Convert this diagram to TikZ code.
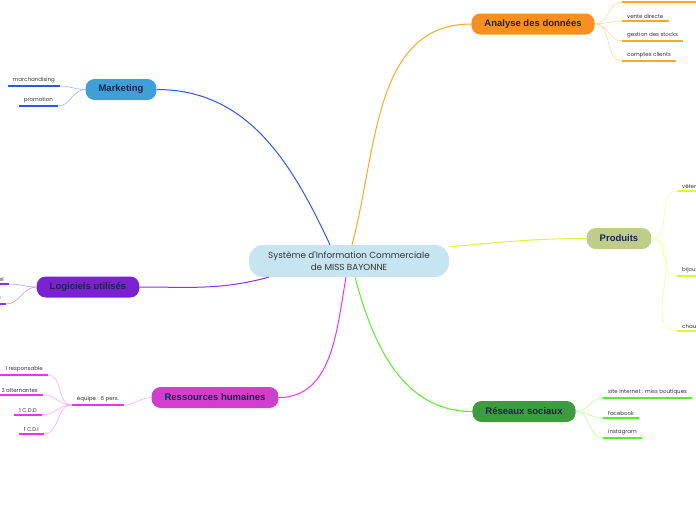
\documentclass[tikz,border=0pt]{standalone}
\usepackage{fontspec}
\setmainfont{Liberation Sans}
\newfontfamily\mindfont{Poppins}
\usepackage{xcolor}
\usepackage{tikz}

\definecolor{navy}{HTML}{1A2550}
\definecolor{leaftext}{HTML}{333333}
\definecolor{sicfill}{HTML}{C6E5F0}
\definecolor{mkfill}{HTML}{3F9FD8}
\definecolor{mkline}{HTML}{2B55F5}
\definecolor{mktwig}{HTML}{8FA8FF}
\definecolor{adfill}{HTML}{F7901E}
\definecolor{adline}{HTML}{FFA726}
\definecolor{adtwig}{HTML}{FFD590}
\definecolor{prfill}{HTML}{BFCC8A}
\definecolor{prline}{HTML}{DDF53A}
\definecolor{prtwig}{HTML}{EEFF88}
\definecolor{lgfill}{HTML}{7B22D0}
\definecolor{lgline}{HTML}{8A33EE}
\definecolor{lgtwig}{HTML}{B088FF}
\definecolor{rhfill}{HTML}{D23FCF}
\definecolor{rhline}{HTML}{EE33EE}
\definecolor{rhtwig}{HTML}{FF99FF}
\definecolor{rsfill}{HTML}{3F9B3F}
\definecolor{rsline}{HTML}{55EE22}
\definecolor{rstwig}{HTML}{AAFF88}

\begin{document}
\begin{tikzpicture}[
    x=1pt, y=-1pt,
    topic/.style={rounded corners=9pt, minimum height=21pt, inner xsep=13pt,
        font=\bfseries\fontsize{9.5}{11}\selectfont, text=navy},
    leaf/.style={inner xsep=5pt, inner ysep=2.5pt,
        font=\mindfont\fontsize{5.5}{6.5}\selectfont, text=leaftext},
    link/.style={line width=1pt},
    twig/.style={line width=0.5pt},
    uline/.style={line width=1.4pt}
]
\useasboundingbox (0,0) rectangle (696,520);
\clip (0,0) rectangle (696,520);

% centre
\node[fill=sicfill, rounded corners=14pt, minimum width=200pt, minimum height=32pt,
    align=center, text=leaftext, font=\mindfont\fontsize{8.8}{12.5}\selectfont]
    (sic) at (349,261) {Système d'Information Commerciale\\de MISS BAYONNE};

% branches
\node[topic, fill=mkfill] (mk) at (121,89.5) {Marketing};
\node[topic, fill=adfill] (ad) at (533,24) {Analyse des données};
\node[topic, fill=prfill] (pr) at (619,238.5) {Produits};
\node[topic, fill=lgfill] (lg) at (88,287) {Logiciels utilisés};
\node[topic, fill=rhfill] (rh) at (215,397.5) {Ressources humaines};
\node[topic, fill=rsfill] (rs) at (524,411.5) {Réseaux sociaux};

\draw[link, mkline] (mk.east) to[out=0, in=115] ([xshift=-19pt]sic.north);
\draw[link, adline] (ad.west) to[out=180, in=75] ([xshift=3pt]sic.north);
\draw[link, prline] (pr.west) to[out=180, in=5] ([yshift=-2pt]sic.north east);
\draw[link, lgline] (lg.east) to[out=0, in=195] ([xshift=20pt]sic.south west);
\draw[link, rhline] (rh.east) to[out=0, in=-100] ([xshift=-3pt]sic.south);
\draw[link, rsline] (rs.west) to[out=180, in=-75] ([xshift=6pt]sic.south);

% Marketing
\node[leaf, anchor=south east] (mk1) at (60,86) {marchandising};
\node[leaf, anchor=south east] (mk2) at (58,106) {promotion};
\foreach \n in {mk1,mk2}{
    \draw[twig, mktwig] (mk.west) to[out=180, in=0] (\n.south east);
    \draw[uline, mkline] (\n.south west) -- (\n.south east);
}

% Analyse des donnees
\coordinate (ad0) at (622,2);
\coordinate (ad0e) at (700,2);
\draw[twig, adtwig] (ad.east) to[out=0, in=180] (ad0);
\draw[uline, adline] (ad0) -- (ad0e);
\node[leaf, anchor=south west] (ad1) at (622,21) {vente directe};
\node[leaf, anchor=south west] (ad2) at (622,41) {gestion des stocks};
\node[leaf, anchor=south west] (ad3) at (622,61) {comptes clients};
\foreach \n in {ad1,ad2,ad3}{
    \draw[twig, adtwig] (ad.east) to[out=0, in=180] (\n.south west);
    \draw[uline, adline] (\n.south west) -- (\n.south east);
}

% Produits
\node[leaf, anchor=south west] (pr1) at (677,191) {vêtements};
\node[leaf, anchor=south west] (pr2) at (677,276) {bijoux};
\node[leaf, anchor=south west] (pr3) at (677,331) {chaussures};
\foreach \n in {pr1,pr2,pr3}{
    \draw[twig, prtwig] (pr.east) to[out=0, in=180] (\n.south west);
    \draw[uline, prline] (\n.south west) -- (\n.south east);
}

% Logiciels
\node[leaf, anchor=south east] (lg1) at (9,284) {Excel};
\node[leaf, anchor=south east] (lg2) at (6,304) {logiciel de caisse};
\foreach \n in {lg1,lg2}{
    \draw[twig, lgtwig] (lg.west) to[out=180, in=0] (\n.south east);
    \draw[uline, lgline] (\n.south west) -- (\n.south east);
}

% Ressources humaines
\node[leaf, anchor=south east] (eq) at (124,405) {équipe : 6 pers.};
\draw[twig, rhtwig] (rh.west) to[out=180, in=0] (eq.south east);
\draw[uline, rhline] (eq.south west) -- (eq.south east);
\node[leaf, anchor=south east] (rh1) at (48,375) {1 responsable};
\node[leaf, anchor=south east] (rh2) at (43,395) {3 alternantes};
\node[leaf, anchor=south east] (rh3) at (42,415) {1 C.D.D};
\node[leaf, anchor=south east] (rh4) at (44,434) {1 C.D.I};
\foreach \n in {rh1,rh2,rh3,rh4}{
    \draw[twig, rhtwig] (eq.south west) to[out=180, in=0] (\n.south east);
    \draw[uline, rhline] (\n.south west) -- (\n.south east);
}

% Reseaux sociaux
\node[leaf, anchor=south west] (rs1) at (603,398) {site internet : miss boutiques};
\node[leaf, anchor=south west] (rs2) at (603,418) {facebook};
\node[leaf, anchor=south west] (rs3) at (603,438) {instagram};
\foreach \n in {rs1,rs2,rs3}{
    \draw[twig, rstwig] (rs.east) to[out=0, in=180] (\n.south west);
    \draw[uline, rsline] (\n.south west) -- (\n.south east);
}
\end{tikzpicture}
\end{document}
